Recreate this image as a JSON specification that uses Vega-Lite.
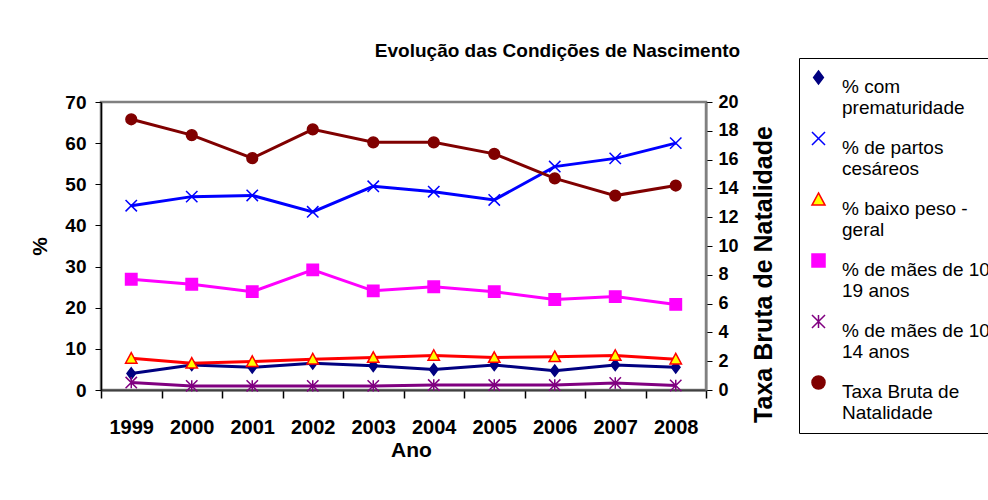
{
  "$schema": "https://vega.github.io/schema/vega-lite/v6.json",
  "width": 605,
  "height": 288,
  "autosize": "none",
  "padding": {"left": 101, "top": 102, "right": 282, "bottom": 110},
  "background": "white",
  "config": {
    "view": {"stroke": "#808080", "strokeWidth": 2.5},
    "font": "Liberation Sans"
  },
  "title": {
    "text": "Evolução das Condições de Nascimento",
    "font": "Liberation Sans",
    "fontSize": 19,
    "fontWeight": "bold",
    "color": "black",
    "anchor": "middle",
    "frame": "group",
    "dx": 154,
    "offset": -3
  },
  "data": {
    "values": [
      {"ano": "1999", "serie": "% com prematuridade", "valor": 4.0},
      {"ano": "2000", "serie": "% com prematuridade", "valor": 6.1},
      {"ano": "2001", "serie": "% com prematuridade", "valor": 5.5},
      {"ano": "2002", "serie": "% com prematuridade", "valor": 6.5},
      {"ano": "2003", "serie": "% com prematuridade", "valor": 5.9},
      {"ano": "2004", "serie": "% com prematuridade", "valor": 5.0},
      {"ano": "2005", "serie": "% com prematuridade", "valor": 6.1},
      {"ano": "2006", "serie": "% com prematuridade", "valor": 4.7},
      {"ano": "2007", "serie": "% com prematuridade", "valor": 6.1},
      {"ano": "2008", "serie": "% com prematuridade", "valor": 5.5},
      {"ano": "1999", "serie": "% de partos cesáreos", "valor": 44.8},
      {"ano": "2000", "serie": "% de partos cesáreos", "valor": 47.0},
      {"ano": "2001", "serie": "% de partos cesáreos", "valor": 47.3},
      {"ano": "2002", "serie": "% de partos cesáreos", "valor": 43.3},
      {"ano": "2003", "serie": "% de partos cesáreos", "valor": 49.5},
      {"ano": "2004", "serie": "% de partos cesáreos", "valor": 48.2},
      {"ano": "2005", "serie": "% de partos cesáreos", "valor": 46.2},
      {"ano": "2006", "serie": "% de partos cesáreos", "valor": 54.3},
      {"ano": "2007", "serie": "% de partos cesáreos", "valor": 56.3},
      {"ano": "2008", "serie": "% de partos cesáreos", "valor": 60.0},
      {"ano": "1999", "serie": "% baixo peso - geral", "valor": 7.7},
      {"ano": "2000", "serie": "% baixo peso - geral", "valor": 6.5},
      {"ano": "2001", "serie": "% baixo peso - geral", "valor": 6.9},
      {"ano": "2002", "serie": "% baixo peso - geral", "valor": 7.5},
      {"ano": "2003", "serie": "% baixo peso - geral", "valor": 7.9},
      {"ano": "2004", "serie": "% baixo peso - geral", "valor": 8.4},
      {"ano": "2005", "serie": "% baixo peso - geral", "valor": 7.9},
      {"ano": "2006", "serie": "% baixo peso - geral", "valor": 8.1},
      {"ano": "2007", "serie": "% baixo peso - geral", "valor": 8.4},
      {"ano": "2008", "serie": "% baixo peso - geral", "valor": 7.5},
      {"ano": "1999", "serie": "% de mães de 10-19 anos", "valor": 26.9},
      {"ano": "2000", "serie": "% de mães de 10-19 anos", "valor": 25.7},
      {"ano": "2001", "serie": "% de mães de 10-19 anos", "valor": 23.9},
      {"ano": "2002", "serie": "% de mães de 10-19 anos", "valor": 29.2},
      {"ano": "2003", "serie": "% de mães de 10-19 anos", "valor": 24.1},
      {"ano": "2004", "serie": "% de mães de 10-19 anos", "valor": 25.1},
      {"ano": "2005", "serie": "% de mães de 10-19 anos", "valor": 23.9},
      {"ano": "2006", "serie": "% de mães de 10-19 anos", "valor": 22.0},
      {"ano": "2007", "serie": "% de mães de 10-19 anos", "valor": 22.7},
      {"ano": "2008", "serie": "% de mães de 10-19 anos", "valor": 20.8},
      {"ano": "1999", "serie": "% de mães de 10-14 anos", "valor": 1.8},
      {"ano": "2000", "serie": "% de mães de 10-14 anos", "valor": 1.0},
      {"ano": "2001", "serie": "% de mães de 10-14 anos", "valor": 1.0},
      {"ano": "2002", "serie": "% de mães de 10-14 anos", "valor": 1.0},
      {"ano": "2003", "serie": "% de mães de 10-14 anos", "valor": 1.0},
      {"ano": "2004", "serie": "% de mães de 10-14 anos", "valor": 1.2},
      {"ano": "2005", "serie": "% de mães de 10-14 anos", "valor": 1.2},
      {"ano": "2006", "serie": "% de mães de 10-14 anos", "valor": 1.2},
      {"ano": "2007", "serie": "% de mães de 10-14 anos", "valor": 1.7},
      {"ano": "2008", "serie": "% de mães de 10-14 anos", "valor": 1.1},
      {"ano": "1999", "serie": "Taxa Bruta de Natalidade", "valor": 18.8},
      {"ano": "2000", "serie": "Taxa Bruta de Natalidade", "valor": 17.7},
      {"ano": "2001", "serie": "Taxa Bruta de Natalidade", "valor": 16.1},
      {"ano": "2002", "serie": "Taxa Bruta de Natalidade", "valor": 18.1},
      {"ano": "2003", "serie": "Taxa Bruta de Natalidade", "valor": 17.2},
      {"ano": "2004", "serie": "Taxa Bruta de Natalidade", "valor": 17.2},
      {"ano": "2005", "serie": "Taxa Bruta de Natalidade", "valor": 16.4},
      {"ano": "2006", "serie": "Taxa Bruta de Natalidade", "valor": 14.7},
      {"ano": "2007", "serie": "Taxa Bruta de Natalidade", "valor": 13.5},
      {"ano": "2008", "serie": "Taxa Bruta de Natalidade", "valor": 14.2}
    ]
  },
  "encoding": {
    "x": {
      "field": "ano",
      "type": "ordinal",
      "scale": {"type": "band", "paddingInner": 0, "paddingOuter": 0},
      "axis": {
        "title": "Ano",
        "titleFont": "Liberation Sans",
        "titleFontSize": 21,
        "titleFontWeight": "bold",
        "titleColor": "black",
        "titlePadding": 2,
        "titleX": 310,
        "labelAngle": 0,
        "labelFont": "Liberation Sans",
        "labelFontSize": 20,
        "labelFontWeight": "bold",
        "labelColor": "black",
        "labelPadding": 19,
        "tickBand": "extent",
        "tickSize": 8,
        "tickColor": "black",
        "tickWidth": 1.5,
        "domainColor": "#404040",
        "domainWidth": 2,
        "grid": false
      }
    }
  },
  "layer": [
    {
      "transform": [{"filter": "datum.serie !== 'Taxa Bruta de Natalidade'"}],
      "encoding": {
        "y": {
          "field": "valor",
          "type": "quantitative",
          "scale": {"domain": [0, 70], "nice": false},
          "axis": {
            "orient": "left",
            "title": "%",
            "titleFont": "Liberation Sans",
            "titleFontSize": 21,
            "titleFontWeight": "bold",
            "titleColor": "black",
            "titlePadding": 14,
            "values": [0, 10, 20, 30, 40, 50, 60, 70],
            "labelFont": "Liberation Sans",
            "labelFontSize": 19,
            "labelFontWeight": "bold",
            "labelColor": "black",
            "labelPadding": 9,
            "tickSize": 6,
            "tickColor": "black",
            "domainColor": "black",
            "domainWidth": 1.5,
            "grid": false
          }
        }
      },
      "layer": [
        {
          "mark": {"type": "line", "strokeWidth": 3},
          "encoding": {
            "stroke": {"field": "serie", "type": "nominal",
              "scale": {"domain": ["% com prematuridade", "% de partos cesáreos", "% baixo peso - geral", "% de mães de 10-19 anos", "% de mães de 10-14 anos", "Taxa Bruta de Natalidade"],
                        "range": ["#000080", "#0000FF", "#FF0000", "#FF00FF", "#800080", "#800000"]}}
          }
        },
        {
          "mark": {"type": "point", "strokeWidth": 1.5, "opacity": 1},
          "encoding": {
            "stroke": {"field": "serie", "type": "nominal"},
            "fill": {"field": "serie", "type": "nominal", "legend": null,
              "scale": {"domain": ["% com prematuridade", "% de partos cesáreos", "% baixo peso - geral", "% de mães de 10-19 anos", "% de mães de 10-14 anos", "Taxa Bruta de Natalidade"],
                        "range": ["#000080", "#0000FF", "#FFFF00", "#FF00FF", "#800080", "#800000"]}},
            "shape": {"field": "serie", "type": "nominal", "legend": null,
              "scale": {"domain": ["% com prematuridade", "% de partos cesáreos", "% baixo peso - geral", "% de mães de 10-19 anos", "% de mães de 10-14 anos", "Taxa Bruta de Natalidade"],
                        "range": ["M0,-1L0.75,0L0,1L-0.75,0Z", "M-1,-1L1,1M-1,1L1,-1", "M0,-1L1,0.85L-1,0.85Z", "square", "M-1,-1L1,1M-1,1L1,-1M0,-1L0,1", "circle"]}},
            "size": {"value": 130}
          }
        }
      ]
    },
    {
      "transform": [{"filter": "datum.serie === 'Taxa Bruta de Natalidade'"}],
      "encoding": {
        "y": {
          "field": "valor",
          "type": "quantitative",
          "scale": {"domain": [0, 20], "nice": false},
          "axis": {
            "orient": "right",
            "title": "Taxa Bruta de Natalidade",
            "titleFont": "Liberation Sans",
            "titleFontSize": 25,
            "titleFontWeight": "bold",
            "titleColor": "black",
            "titleAngle": 270,
            "titlePadding": 38,
            "titleY": 172,
            "values": [0, 2, 4, 6, 8, 10, 12, 14, 16, 18, 20],
            "labelFont": "Liberation Sans",
            "labelFontSize": 18,
            "labelFontWeight": "bold",
            "labelColor": "black",
            "labelPadding": 6,
            "tickSize": 6,
            "tickColor": "black",
            "domainColor": "#808080",
            "domainWidth": 2,
            "grid": false
          }
        }
      },
      "layer": [
        {
          "mark": {"type": "line", "strokeWidth": 3},
          "encoding": {
            "stroke": {"field": "serie", "type": "nominal",
              "legend": {
                "orient": "none",
                "legendX": 698,
                "legendY": -44,
                "title": null,
                "padding": 10,
                "strokeColor": "black",
                "fillColor": "white",
                "symbolSize": 170,
                "symbolStrokeWidth": 1.5,
                "symbolOpacity": 1,
                "labelFont": "Liberation Sans",
                "labelFontSize": 19,
                "labelColor": "black",
                "labelLimit": 300,
                "labelOffset": 14,
                "labelBaseline": "top",
                "rowPadding": 10,
                "labelExpr": "datum.label === '% com prematuridade' ? ['% com', 'prematuridade'] : datum.label === '% de partos cesáreos' ? ['% de partos', 'cesáreos'] : datum.label === '% baixo peso - geral' ? ['% baixo peso -', 'geral'] : datum.label === '% de mães de 10-19 anos' ? ['% de mães de 10-', '19 anos'] : datum.label === '% de mães de 10-14 anos' ? ['% de mães de 10-', '14 anos'] : ['Taxa Bruta de', 'Natalidade']"
              }}
          }
        },
        {
          "mark": {"type": "point", "strokeWidth": 1.5, "opacity": 1},
          "encoding": {
            "stroke": {"field": "serie", "type": "nominal"},
            "fill": {"field": "serie", "type": "nominal", "legend": null},
            "shape": {"field": "serie", "type": "nominal", "legend": null},
            "size": {"value": 115}
          }
        }
      ]
    }
  ],
  "resolve": {"scale": {"y": "independent"}}
}
